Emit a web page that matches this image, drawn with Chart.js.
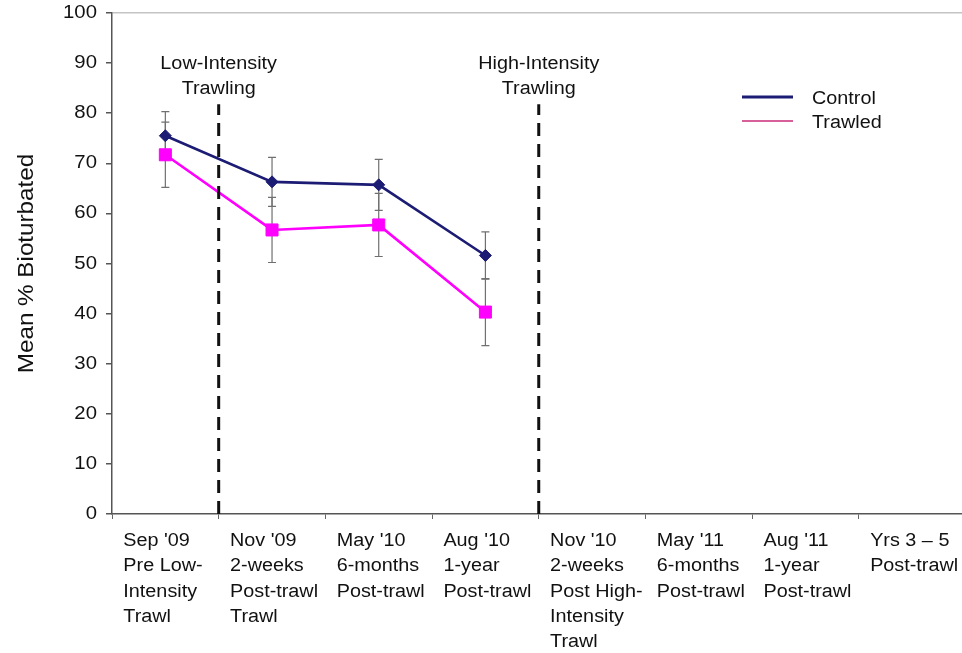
<!DOCTYPE html>
<html>
<head>
<meta charset="utf-8">
<script src="https://cdn.jsdelivr.net/npm/chart.js@4.4.1/dist/chart.umd.min.js"></script>
<style>
  html, body { margin: 0; padding: 0; background: #fff; overflow: hidden; }
  canvas { display: block; }
</style>
</head>
<body>
<canvas id="c" width="975" height="653"></canvas>
<script>
// Sampling periods (multi-line axis labels)
const categories = [
  ["Sep '09", "Pre Low-", "Intensity", "Trawl"],
  ["Nov '09", "2-weeks", "Post-trawl", "Trawl"],
  ["May '10", "6-months", "Post-trawl"],
  ["Aug '10", "1-year", "Post-trawl"],
  ["Nov '10", "2-weeks", "Post High-", "Intensity", "Trawl"],
  ["May '11", "6-months", "Post-trawl"],
  ["Aug '11", "1-year", "Post-trawl"],
  ["Yrs 3 \u2013 5", "Post-trawl"]
];

// Mean % bioturbated with error (±) per period
const controlMean = [75.5, 66.3, 65.7, 51.6, null, null, null, null];
const controlErr  = [4.8, 4.9, 5.1, 4.7, null, null, null, null];
const trawledMean = [71.7, 56.7, 57.7, 40.3, null, null, null, null];
const trawledErr  = [6.5, 6.5, 6.3, 6.7, null, null, null, null];

// Trawling events: label lines and the period they precede
const eventLabels = [["Low-Intensity", "Trawling"], ["High-Intensity", "Trawling"]];
const eventBefore = [1, 4];

const yTicks = { min: 0, max: 100, step: 10 };

const NAVY = '#1c1c74';
const MAGENTA = '#ff00ff';
const TEXT = '#111111';
const FONT = "'Liberation Sans', Arial, sans-serif";
const TEXT_STRETCH = 1.1;   // lettering is set slightly expanded

// Expanded lettering: every text draw is widened about its anchor point
const wideText = {
  id: 'wideText',
  beforeDraw(chart) {
    const ctx = chart.ctx;
    if (ctx.__wide) return;
    const fill = ctx.fillText;
    ctx.fillText = function (text, x, y) {
      this.save();
      this.translate(x, y);
      this.scale(TEXT_STRETCH, 1);
      fill.call(this, text, 0, 0);
      this.restore();
    };
    ctx.__wide = true;
  }
};

const errorBars = {
  id: 'errorBars',
  beforeDatasetsDraw(chart) {
    const ctx = chart.ctx;
    const y = chart.scales.y;
    const errs = [controlErr, trawledErr];
    ctx.save();
    ctx.strokeStyle = '#707070';
    ctx.lineWidth = 1.2;
    chart.data.datasets.forEach((ds, di) => {
      const meta = chart.getDatasetMeta(di);
      meta.data.forEach((pt, i) => {
        const v = ds.data[i];
        const e = errs[di][i];
        if (v == null || e == null) return;
        const x = pt.x;
        const yt = y.getPixelForValue(v + e);
        const yb = y.getPixelForValue(v - e);
        ctx.beginPath();
        ctx.moveTo(x, yt); ctx.lineTo(x, yb);
        ctx.moveTo(x - 4, yt); ctx.lineTo(x + 4, yt);
        ctx.moveTo(x - 4, yb); ctx.lineTo(x + 4, yb);
        ctx.stroke();
      });
    });
    ctx.restore();
  }
};

const events = {
  id: 'events',
  afterDatasetsDraw(chart) {
    const ctx = chart.ctx;
    const x = chart.scales.x;
    const y = chart.scales.y;
    ctx.save();
    eventBefore.forEach((idx, k) => {
      const px = (x.getPixelForValue(idx - 1) + x.getPixelForValue(idx)) / 2;
      // dashed marker line
      ctx.strokeStyle = '#111';
      ctx.lineWidth = 3;
      ctx.setLineDash([13, 8]);
      ctx.beginPath();
      ctx.moveTo(px, y.getPixelForValue(0));
      ctx.lineTo(px, y.getPixelForValue(81.8));
      ctx.stroke();
      ctx.setLineDash([]);
      // label
      ctx.fillStyle = TEXT;
      ctx.font = '18px ' + FONT;
      ctx.textAlign = 'center';
      ctx.textBaseline = 'middle';
      eventLabels[k].forEach((line, j) => {
        ctx.fillText(line, px, 64 + j * 25);
      });
    });
    ctx.restore();
  }
};

const lineLegend = {
  id: 'lineLegend',
  afterDraw(chart) {
    const ctx = chart.ctx;
    const items = [
      { label: chart.data.datasets[0].label, color: NAVY, width: 3, y: 97 },
      { label: chart.data.datasets[1].label, color: '#d8609a', width: 2.2, y: 121 }
    ];
    ctx.save();
    items.forEach(it => {
      ctx.strokeStyle = it.color;
      ctx.lineWidth = it.width;
      ctx.beginPath();
      ctx.moveTo(742, it.y);
      ctx.lineTo(793, it.y);
      ctx.stroke();
      ctx.fillStyle = TEXT;
      ctx.font = '18px ' + FONT;
      ctx.textAlign = 'left';
      ctx.textBaseline = 'middle';
      ctx.fillText(it.label, 812, it.y + 2);
    });
    ctx.restore();
  }
};

new Chart(document.getElementById('c'), {
  type: 'line',
  data: {
    labels: categories,
    datasets: [
      {
        label: 'Control',
        data: controlMean,
        borderColor: NAVY,
        backgroundColor: NAVY,
        borderWidth: 2.6,
        pointStyle: 'rectRot',
        pointRadius: 6,
        pointBorderWidth: 1,
        tension: 0,
        spanGaps: false,
        order: 1
      },
      {
        label: 'Trawled',
        data: trawledMean,
        borderColor: MAGENTA,
        backgroundColor: MAGENTA,
        borderWidth: 2.6,
        pointStyle: 'rect',
        pointRadius: 8.5,
        pointBorderWidth: 1,
        tension: 0,
        spanGaps: false,
        order: 2
      }
    ]
  },
  options: {
    responsive: false,
    animation: false,
    devicePixelRatio: 1,
    layout: { padding: { top: 13, right: 3, left: 0, bottom: 0 } },
    plugins: {
      legend: { display: false },
      tooltip: { enabled: false }
    },
    scales: {
      x: {
        type: 'category',
        offset: true,
        afterFit(scale) {
          scale.height = 139;
          scale.paddingLeft = 0;
          scale.paddingRight = 0;
        },
        grid: {
          offset: true,
          drawOnChartArea: false,
          drawTicks: true,
          tickLength: 5,
          tickColor: '#666',
          lineWidth: 1
        },
        border: { color: '#555', width: 1.5 },
        ticks: {
          autoSkip: false,
          maxRotation: 0,
          minRotation: 0,
          align: 'start',
          labelOffset: -42,
          padding: 10,
          color: TEXT,
          font: { family: FONT, size: 18, lineHeight: 1.39 }
        }
      },
      y: {
        min: yTicks.min,
        max: yTicks.max,
        afterFit(scale) {
          scale.width = 112;
          scale.paddingTop = 0;
          scale.paddingBottom = 0;
        },
        grid: {
          drawOnChartArea: true,
          drawTicks: true,
          tickLength: 6,
          tickColor: '#555',
          color: ctx => (ctx.tick && ctx.tick.value === 100) ? '#c4c4c4' : 'rgba(0,0,0,0)',
          lineWidth: 1.5
        },
        border: { color: '#555', width: 1.5 },
        ticks: {
          stepSize: yTicks.step,
          padding: 9,
          color: TEXT,
          font: { family: FONT, size: 18.5 }
        },
        title: {
          display: true,
          text: 'Mean % Bioturbated',
          color: TEXT,
          font: { family: FONT, size: 22, lineHeight: 1.2 },
          padding: { top: 14, bottom: 0 }
        }
      }
    }
  },
  plugins: [wideText, errorBars, events, lineLegend]
});
</script>
</body>
</html>
